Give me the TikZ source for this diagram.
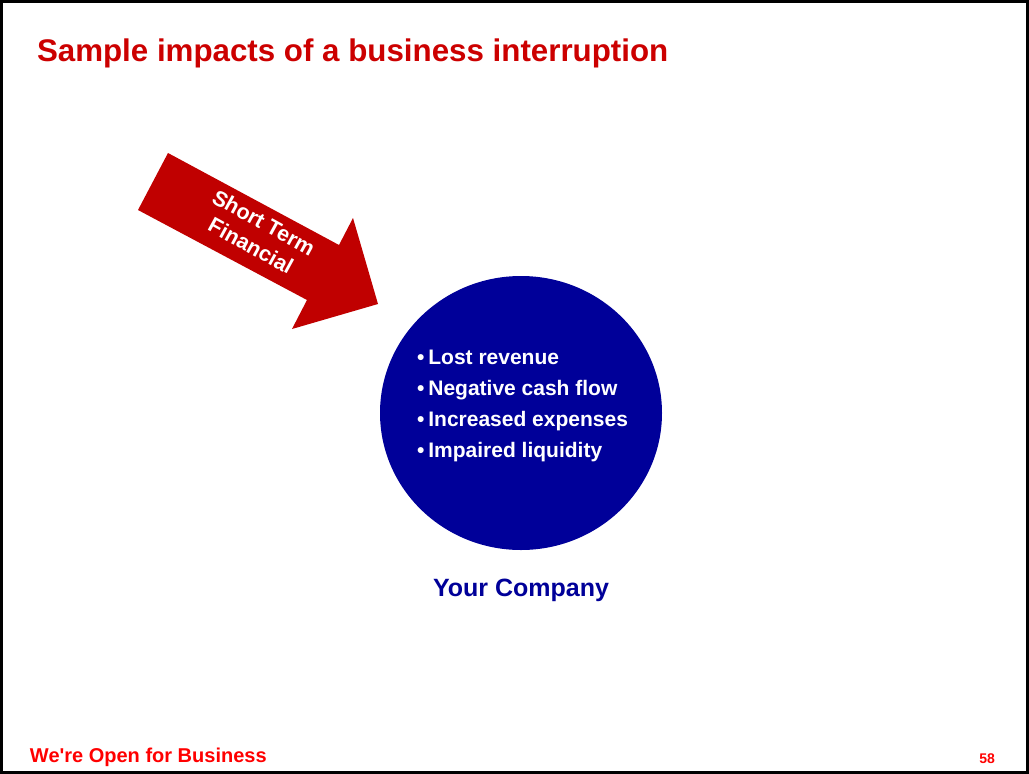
\documentclass[tikz,border=0pt]{standalone}
\usepackage{fontspec}
\setmainfont{Liberation Sans}
\usetikzlibrary{shapes.geometric}
\definecolor{titlered}{HTML}{CC0000}
\definecolor{arrowred}{HTML}{C00000}
\definecolor{footred}{HTML}{FF0000}
\definecolor{navy}{HTML}{000099}
\tikzset{
  txt/.style={inner sep=0pt, outer sep=0pt, font=\bfseries},
  bullet/.style={txt, anchor=base west, text=white, font=\bfseries\fontsize{21}{24}\selectfont},
  arrowtxt/.style={txt, anchor=center, align=center, text=white, rotate=-28.8, font=\bfseries\fontsize{21.5}{26.4}\selectfont},
}
\begin{document}
\begin{tikzpicture}[x=1pt,y=-1pt]
\useasboundingbox (0,0) rectangle (1029,774);
\fill[white] (0,0) rectangle (1029,774);
\draw[line width=3pt] (1.5,1.5) rectangle (1027.5,772.5);
% title
\node[txt, anchor=base west, text=titlered, font=\bfseries\fontsize{31.3}{36}\selectfont] (title) at (37,61) {Sample impacts of a business interruption};
% arrow
\fill[arrowred] (168,153) -- (339,245) -- (353,218) -- (378,304) -- (292,329) -- (307,300) -- (138,210) -- cycle;
\node[arrowtxt] (atext) at (257.4,234.1) {Short Term\\Financial};
% circle
\node[ellipse, fill=navy, minimum width=282pt, minimum height=274pt, inner sep=0pt] (circ) at (521,413) {};
\node[bullet] (b1) at (417,364) {•\kern4pt Lost revenue};
\node[bullet] (b2) at (417,395) {•\kern4pt Negative cash flow};
\node[bullet] (b3) at (417,426) {•\kern4pt Increased expenses};
\node[bullet] (b4) at (417,457) {•\kern4pt Impaired liquidity};
\node[txt, anchor=base, text=navy, font=\bfseries\fontsize{25}{30}\selectfont] (comp) at (521,596) {Your Company};
% footer
\node[txt, anchor=base west, text=footred, font=\bfseries\fontsize{20}{24}\selectfont] (foot) at (30,762) {We\textquotesingle re Open for Business};
\node[txt, anchor=base east, text=footred, font=\bfseries\fontsize{14}{16}\selectfont] (page) at (995,763) {58};
\end{tikzpicture}
\end{document}
